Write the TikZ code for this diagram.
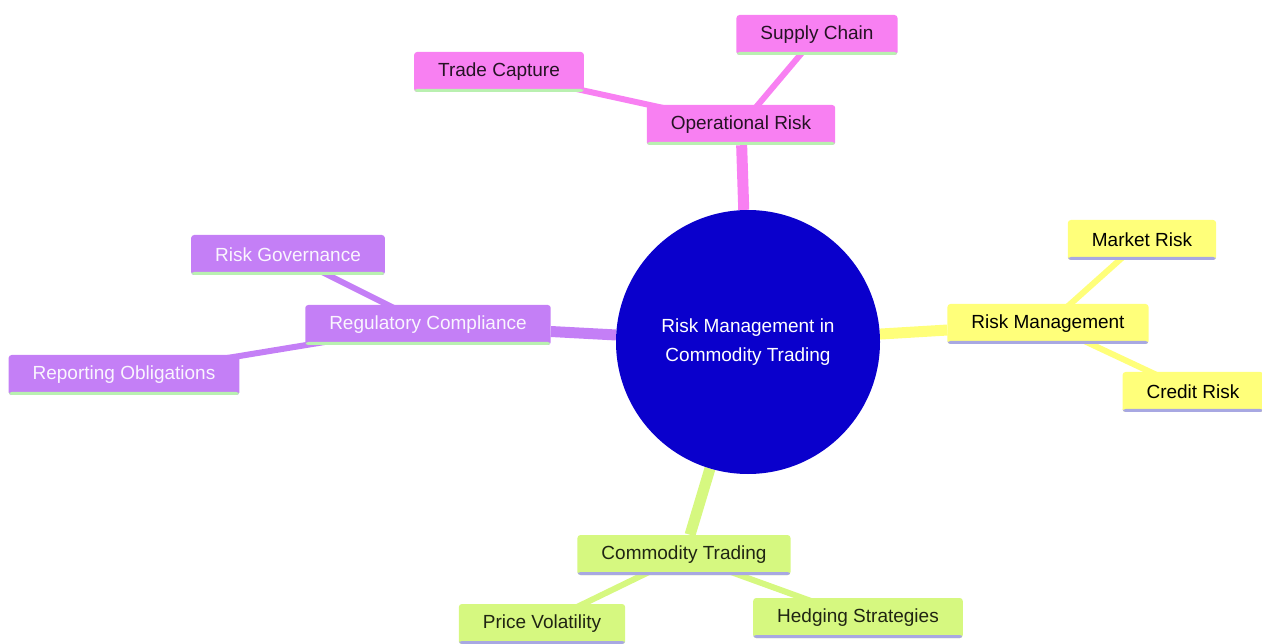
\documentclass[tikz,border=0pt]{standalone}
\usepackage{fontspec}
\setmainfont{Liberation Sans}
\usetikzlibrary{positioning, backgrounds}

\definecolor{rootblue}{HTML}{0A00CC}
\definecolor{opspink}{HTML}{F880F2}
\definecolor{rmyellow}{HTML}{FFFF7A}
\definecolor{regpurple}{HTML}{C47FF6}
\definecolor{ctgreen}{HTML}{D6F880}
\definecolor{lineGreen}{HTML}{B9F0B0}
\definecolor{lineLav}{HTML}{A8A8E2}

\begin{document}
\begin{tikzpicture}[x=1pt,y=-1pt,line cap=round,
    every node/.style={font=\fontsize{19}{22}\selectfont},
    leaf/.style={rounded corners=3pt,inner xsep=24pt,minimum height=40pt,text=#1},
    underline/.style={path picture={\fill[#1] (path picture bounding box.south west) rectangle ([yshift=3pt]path picture bounding box.south east);}},
    mainedge/.style={line width=11pt,#1},
    subedge/.style={line width=6pt,#1}]

    \useasboundingbox (0,0) rectangle (1262,644);

    % centre
    \node[circle,fill=rootblue,minimum size=264pt,text=white,align=center] (root) at (748,342) {Risk Management in\\[7pt]Commodity Trading};

    % operational risk
    \node[leaf=black!85!opspink,fill=opspink,underline=lineGreen] (ops) at (741,125) {Operational Risk};
    \node[leaf=black!85!opspink,fill=opspink,underline=lineGreen] (supply) at (817,35) {Supply Chain};
    \node[leaf=black!85!opspink,fill=opspink,underline=lineGreen] (trade) at (499,72) {Trade Capture};

    % risk management
    \node[leaf=black,fill=rmyellow,underline=lineLav] (rm) at (1048,324) {Risk Management};
    \node[leaf=black,fill=rmyellow,underline=lineLav] (market) at (1142,240) {Market Risk};
    \node[leaf=black,fill=rmyellow,underline=lineLav] (credit) at (1193,392) {Credit Risk};

    % regulatory compliance
    \node[leaf=white!92!regpurple,fill=regpurple,underline=lineGreen] (reg) at (428,325) {Regulatory Compliance};
    \node[leaf=white!92!regpurple,fill=regpurple,underline=lineGreen] (gov) at (288,255) {Risk Governance};
    \node[leaf=white!92!regpurple,fill=regpurple,underline=lineGreen] (report) at (124,375) {Reporting Obligations};

    % commodity trading
    \node[leaf=black!85!ctgreen,fill=ctgreen,underline=lineLav] (ct) at (684,555) {Commodity Trading};
    \node[leaf=black!85!ctgreen,fill=ctgreen,underline=lineLav] (price) at (542,624) {Price Volatility};
    \node[leaf=black!85!ctgreen,fill=ctgreen,underline=lineLav] (hedge) at (858,618) {Hedging Strategies};

    \begin{scope}[on background layer]
        \draw[mainedge=opspink] (root) -- (ops);
        \draw[subedge=opspink] (ops.center) -- (supply.center);
        \draw[subedge=opspink] (ops.center) -- (trade.center);

        \draw[mainedge=rmyellow] (root) -- (rm);
        \draw[subedge=rmyellow] (rm.center) -- (market.center);
        \draw[subedge=rmyellow] (rm.center) -- (credit.center);

        \draw[mainedge=regpurple] (root) -- (reg);
        \draw[subedge=regpurple] (reg.center) -- (gov.center);
        \draw[subedge=regpurple] (reg.center) -- (report.center);

        \draw[mainedge=ctgreen] (root) -- (ct);
        \draw[subedge=ctgreen] (ct.center) -- (price.center);
        \draw[subedge=ctgreen] (ct.center) -- (hedge.center);
    \end{scope}
\end{tikzpicture}
\end{document}
